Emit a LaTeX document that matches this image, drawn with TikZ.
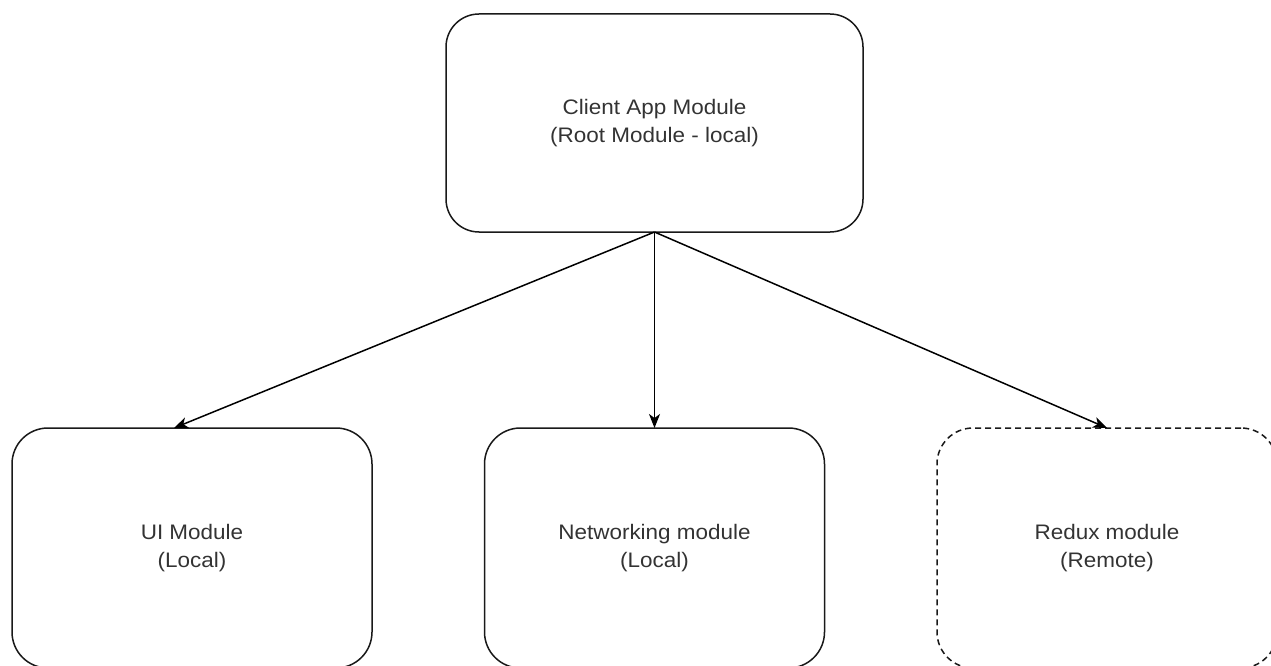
\documentclass[tikz,border=0pt]{standalone}
\usepackage{fontspec}
\setmainfont[FakeStretch=1.07]{Liberation Sans}
\usetikzlibrary{arrows.meta}

\tikzset{
  module/.style={draw=black!90, line width=1.5pt, inner sep=0pt, outer sep=0pt,
    align=center, text=black!80,
    font=\fontsize{21}{28.5}\selectfont},
  rootbox/.style={module, minimum width=417pt, minimum height=218pt, rounded corners=33pt},
  leafbox/.style={module, minimum height=240pt, rounded corners=36pt},
  remote/.style={dash pattern=on 6pt off 4pt},
  depends/.style={draw=black, line width=1.5pt,
    -{Stealth[length=14pt, width=11pt, inset=4pt]}}
}

\begin{document}
\begin{tikzpicture}[x=1pt, y=-1pt]
  \useasboundingbox (0,0) rectangle (1271,666);

  % root module
  \node[rootbox] (root) at (654.5,123) {Client App Module\\(Root Module - local)};

  % child modules
  \node[leafbox, minimum width=360pt] (ui)    at (192,548)  {UI Module\\(Local)};
  \node[leafbox, minimum width=340pt] (net)   at (654.5,548) {Networking module\\(Local)};
  \node[leafbox, remote, minimum width=340pt] (redux) at (1107,548) {Redux module\\(Remote)};

  \coordinate (uiin) at ([xshift=-18pt]ui.north);

  % dependency arrows
  \draw[depends] (root.south) -- (uiin);
  \draw[depends] (root.south) -- (net.north);
  \draw[depends] (root.south) -- (redux.north);
\end{tikzpicture}
\end{document}
